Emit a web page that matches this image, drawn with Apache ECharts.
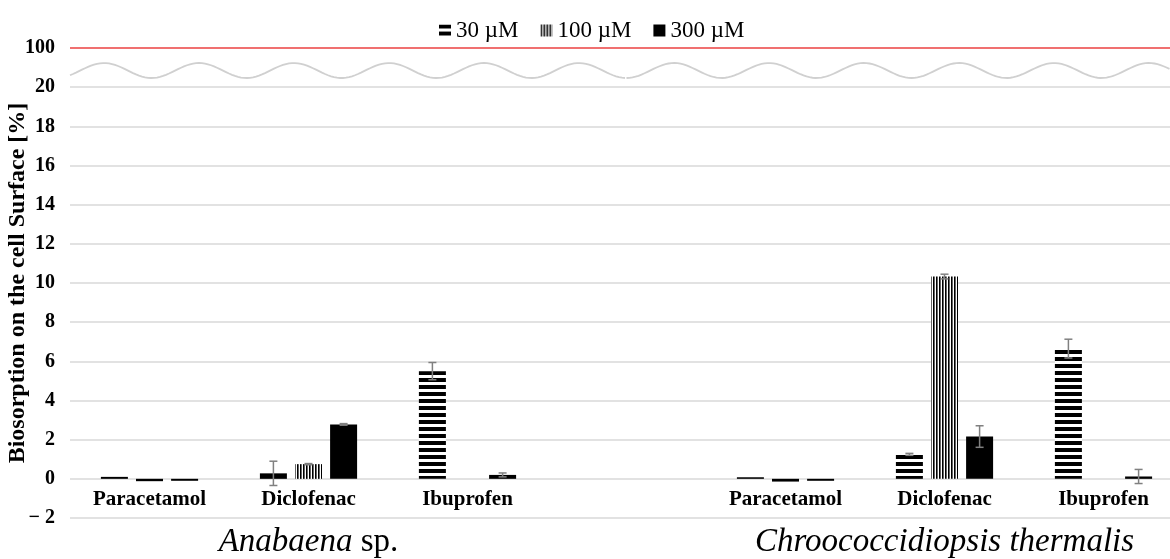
<!DOCTYPE html>
<html><head><meta charset="utf-8">
<script src="https://cdn.jsdelivr.net/npm/echarts@6/dist/echarts.min.js"></script>
<style>html,body{margin:0;padding:0;background:#fff}#c{width:1170px;height:559px}</style>
</head><body><div id="c"></div>
<script>
// ---- data ----
const categories = ['Paracetamol', 'Diclofenac', 'Ibuprofen', '', 'Paracetamol', 'Diclofenac', 'Ibuprofen'];
const organisms = ['', 'Anabaena sp.', '', '', '', 'Chroococcidiopsis thermalis', ''];
const seriesNames = ['30 µM', '100 µM', '300 µM'];
const values30 = [0.1, 0.28, 5.5, null, 0.08, 1.25, 6.65];
const errors30 = [0, 0.62, 0.44, null, 0, 0.05, 0.48];
const values100 = [-0.12, 0.75, null, null, -0.14, 10.33, null];
const errors100 = [0, 0.03, null, null, 0, 0.12, null];
const values300 = [-0.1, 2.78, 0.2, null, -0.1, 2.16, 0.12];
const errors300 = [0, 0.04, 0.1, null, 0, 0.55, 0.36];
const yMin = -2, yMax = 22, yStep = 2;      // axis 22 stands for the broken-axis value 100
const brokenTopLabel = '100';
const breakLevel = 20.85;                   // level of the axis-break wave

// ---- styles ----
const FONT = '"Liberation Serif", "Times New Roman", serif';
const BAR_W = 27, BAR_GAP = 0.3;
const BAR_STEP = BAR_W * (1 + BAR_GAP);

function hPattern() {
  const c = document.createElement('canvas'); c.width = 8; c.height = 7;
  const g = c.getContext('2d'); g.fillStyle = '#fff'; g.fillRect(0, 0, 8, 7);
  g.fillStyle = '#000'; g.fillRect(0, 0, 8, 4); return c;
}
function vPattern() {
  const c = document.createElement('canvas'); c.width = 3; c.height = 8;
  const g = c.getContext('2d'); g.fillStyle = '#fff'; g.fillRect(0, 0, 3, 8);
  g.fillStyle = '#000'; g.fillRect(0, 0, 1.6, 8); return c;
}
const fills = [
  { image: hPattern(), repeat: 'repeat' },
  { image: vPattern(), repeat: 'repeat' },
  '#000'
];
const allValues = [values30, values100, values300];
const allErrors = [errors30, errors100, errors300];

function barData(vals) {
  return vals.map(v => v == null ? null : (Math.abs(v) < 0.35 ? { value: v, itemStyle: { color: '#000' } } : v));
}

const errData = [];
allValues.forEach((vals, si) => vals.forEach((v, ci) => {
  const e = allErrors[si][ci];
  if (v != null && e) errData.push([ci, v, e, si]);
}));

const chart = echarts.init(document.getElementById('c'), null, { renderer: 'canvas' });

const series = seriesNames.map((n, i) => ({
  name: n, type: 'bar', xAxisIndex: 0, data: barData(allValues[i]),
  barWidth: BAR_W, barGap: (BAR_GAP * 100) + '%',
  itemStyle: { color: fills[i] }, silent: true,
  markLine: i === 0 ? {
    silent: true, symbol: 'none', label: { show: false },
    lineStyle: { color: '#f07070', width: 2, type: 'solid' },
    data: [{ yAxis: yMax }]
  } : undefined
}));
series.push({
  type: 'custom', xAxisIndex: 0, data: errData, silent: true, z: 5,
  encode: { x: 0, y: 1 },
  renderItem(params, api) {
    const ci = api.value(0), v = api.value(1), e = api.value(2), si = api.value(3);
    const off = (si - 1) * BAR_STEP;
    const t = api.coord([ci, v + e]), b = api.coord([ci, v - e]);
    const x = t[0] + off, st = { stroke: '#808080', lineWidth: 1.5 };
    return { type: 'group', children: [
      { type: 'line', shape: { x1: x, y1: t[1], x2: x, y2: b[1] }, style: st },
      { type: 'line', shape: { x1: x - 4, y1: t[1], x2: x + 4, y2: t[1] }, style: st },
      { type: 'line', shape: { x1: x - 4, y1: b[1], x2: x + 4, y2: b[1] }, style: st }
    ] };
  }
});

chart.setOption({
  animation: false,
  backgroundColor: '#fff',
  legend: {
    data: seriesNames, left: 434, top: 14, itemWidth: 12, itemHeight: 12, itemGap: 22,
    icon: 'rect', selectedMode: false,
    textStyle: { fontFamily: FONT, fontSize: 23, color: '#000' }
  },
  grid: { left: 70, right: -13, top: 48, bottom: 41, containLabel: false, outerBoundsMode: 'none' },
  xAxis: [{
    type: 'category', data: categories, position: 'bottom',
    axisLine: { show: false, onZero: false },
    axisTick: { show: false },
    axisLabel: { interval: 0, margin: -29, fontFamily: FONT, fontSize: 21, fontWeight: 'bold', color: '#000' }
  }, {
    type: 'category', data: organisms, position: 'bottom',
    axisLine: { show: false, onZero: false }, axisTick: { show: false }, splitLine: { show: false },
    axisLabel: {
      interval: 0, margin: 8, color: '#000',
      formatter: v => v ? v.split(' ').map(w => w === 'sp.' ? '{n|sp.}' : '{i|' + w + '}').join('{n| }') : '',
      rich: {
        i: { fontFamily: FONT, fontSize: 33, fontStyle: 'italic', color: '#000' },
        n: { fontFamily: FONT, fontSize: 33, color: '#000' }
      }
    }
  }],
  yAxis: {
    type: 'value', min: yMin, max: yMax, interval: yStep,
    name: 'Biosorption on the cell Surface [%]', nameLocation: 'middle', nameGap: 40,
    nameMoveOverlap: false,
    nameTextStyle: { fontFamily: FONT, fontSize: 24, fontWeight: 'bold', color: '#000' },
    axisLine: { show: false }, axisTick: { show: false },
    axisLabel: {
      margin: 15, fontFamily: FONT, fontSize: 20, fontWeight: 'bold', color: '#000',
      formatter: v => v === yMax ? brokenTopLabel : (v < 0 ? '\u2212 ' + (-v) : String(v))
    },
    splitLine: { lineStyle: { color: '#d9d9d9', width: 1.5 } }
  },
  series
});

// axis-break wave decoration
(function drawWave() {
  const x0 = chart.convertToPixel({ xAxisIndex: 0 }, 0);
  const x6 = chart.convertToPixel({ xAxisIndex: 0 }, 6);
  const band = (x6 - x0) / 6;
  const left = x0 - band / 2, right = x6 + band / 2, mid = x0 + 3 * band;
  const yc = chart.convertToPixel({ yAxisIndex: 0 }, breakLevel);
  const A = 7.5, P = 95;
  const mk = (a, b) => {
    const pts = [];
    for (let x = a; x <= b + 0.01; x += 3) pts.push([x, yc + A * Math.cos(2 * Math.PI * (x - mid) / P)]);
    return pts;
  };
  chart.setOption({ graphic: [
    { type: 'polyline', shape: { points: mk(left, mid) }, style: { stroke: '#d0d0d0', lineWidth: 1.8, fill: null }, silent: true },
    { type: 'polyline', shape: { points: mk(mid, Math.min(right, 1170)) }, style: { stroke: '#d0d0d0', lineWidth: 1.8, fill: null }, silent: true }
  ] });
})();
</script>
</body></html>
